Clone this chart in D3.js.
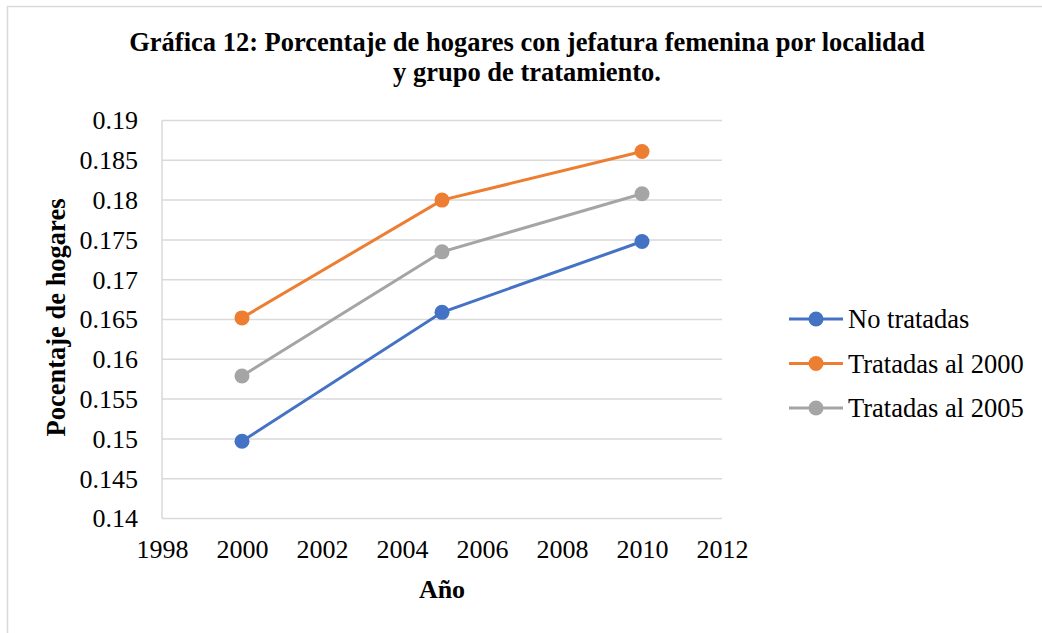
<!DOCTYPE html>
<html><head><meta charset="utf-8">
<script src="https://cdn.jsdelivr.net/npm/d3@7"></script>
<style>body{margin:0;background:#fff}svg{display:block}text{font-family:"Liberation Serif","Times New Roman",serif;fill:#000}</style>
</head><body>
<svg id="c" width="1042" height="633"></svg>
<script>
const years = [2000, 2005, 2010];
const noTratadas = [0.1497, 0.1659, 0.1748];
const tratadas2000 = [0.1652, 0.1800, 0.1861];
const tratadas2005 = [0.1579, 0.1735, 0.1808];
const seriesNames = ["No tratadas", "Tratadas al 2000", "Tratadas al 2005"];
const seriesColors = ["#4472C4", "#ED7D31", "#A5A5A5"];
const xTicks = [1998, 2000, 2002, 2004, 2006, 2008, 2010, 2012];
const yTicks = [0.14, 0.145, 0.15, 0.155, 0.16, 0.165, 0.17, 0.175, 0.18, 0.185, 0.19];
const yTickLabels = ["0.14","0.145","0.15","0.155","0.16","0.165","0.17","0.175","0.18","0.185","0.19"];
const titleLines = ["Gráfica 12: Porcentaje de hogares con jefatura femenina por localidad", "y grupo de tratamiento."];

const svg = d3.select("#c");
const L = 162, R = 722, T = 120.5, B = 518.5;
const x = d3.scaleLinear().domain([1998, 2012]).range([L, R]);
const y = d3.scaleLinear().domain([0.14, 0.19]).range([B, T]);

svg.append("rect").attr("x", 7.5).attr("y", 6.5).attr("width", 1100).attr("height", 700)
  .attr("fill", "#fff").attr("stroke", "#d9d9d9").attr("stroke-width", 1.5);

// title
svg.append("text").attr("x", 527).attr("y", 51).attr("text-anchor", "middle")
  .attr("font-size", 26.5).attr("font-weight", "bold")
  .selectAll("tspan").data(titleLines).join("tspan")
  .attr("x", 527).attr("dy", (d, i) => i ? 30 : 0).text(d => d);

// gridlines
svg.append("g").selectAll("line").data(yTicks).join("line")
  .attr("x1", L).attr("x2", R).attr("y1", d => y(d)).attr("y2", d => y(d))
  .attr("stroke", "#d9d9d9").attr("stroke-width", 1.5);
svg.append("line").attr("x1", L).attr("x2", L).attr("y1", T).attr("y2", B)
  .attr("stroke", "#d9d9d9").attr("stroke-width", 1.5);

// y axis labels
const yAxis = d3.axisLeft(y).tickValues(yTicks).tickFormat((d, i) => yTickLabels[i]).tickSize(0).tickPadding(24);
const gy = svg.append("g").attr("transform", `translate(${L},0)`).call(yAxis);
gy.select(".domain").remove();
gy.selectAll("text").attr("font-size", 26).attr("font-family", "Liberation Serif").attr("fill", "#000");

// x axis labels
const xAxis = d3.axisBottom(x).tickValues(xTicks).tickFormat(d3.format("d")).tickSize(0).tickPadding(21);
const gx = svg.append("g").attr("transform", `translate(0,${B})`).call(xAxis);
gx.select(".domain").remove();
gx.selectAll("text").attr("font-size", 26).attr("font-family", "Liberation Serif").attr("fill", "#000");

// axis titles
svg.append("text").attr("x", (L + R) / 2).attr("y", 598).attr("text-anchor", "middle")
  .attr("font-size", 26).attr("font-weight", "bold").text("Año");
svg.append("text").attr("transform", `translate(65,${(T + B) / 2 - 2}) rotate(-90)`).attr("text-anchor", "middle")
  .attr("font-size", 26.5).attr("font-weight", "bold").text("Pocentaje de hogares");

// series
const allSeries = [noTratadas, tratadas2000, tratadas2005];
const line = d3.line().x((d, i) => x(years[i])).y(d => y(d));
allSeries.forEach((vals, s) => {
  svg.append("path").datum(vals).attr("d", line).attr("fill", "none")
    .attr("stroke", seriesColors[s]).attr("stroke-width", 3);
  svg.append("g").selectAll("circle").data(vals).join("circle")
    .attr("cx", (d, i) => x(years[i])).attr("cy", d => y(d)).attr("r", 7.5)
    .attr("fill", seriesColors[s]);
});

// legend
const lg = svg.append("g").selectAll("g").data(seriesNames).join("g")
  .attr("transform", (d, i) => `translate(789,${319 + i * 44.5})`);
lg.append("line").attr("x1", 0).attr("x2", 54).attr("stroke", (d, i) => seriesColors[i]).attr("stroke-width", 3);
lg.append("circle").attr("cx", 27).attr("r", 7.5).attr("fill", (d, i) => seriesColors[i]);
lg.append("text").attr("x", 59).attr("y", 9).attr("font-size", 26.5).text(d => d);
</script>
</body></html>
